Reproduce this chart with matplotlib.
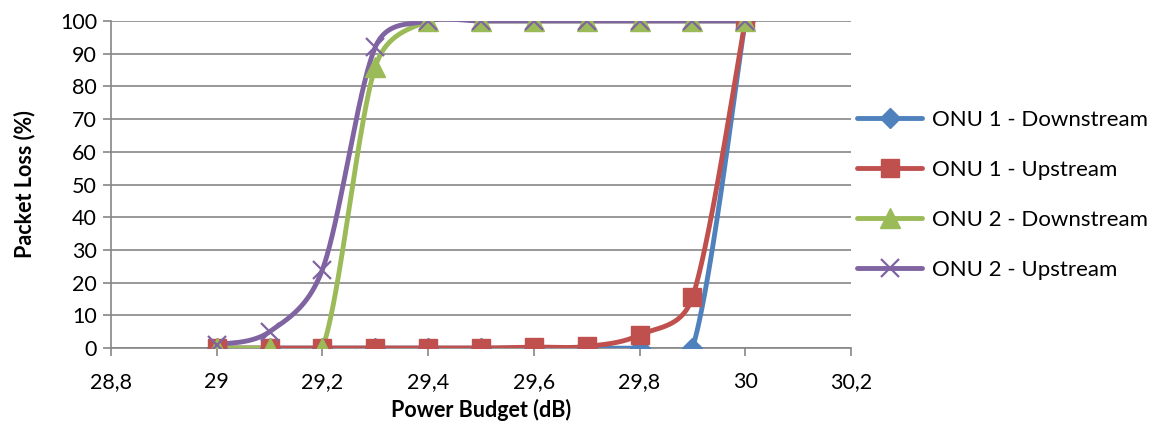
import numpy as np
import matplotlib
matplotlib.use("Agg")
import matplotlib.pyplot as plt
from matplotlib.ticker import FuncFormatter, MultipleLocator

plt.rcParams['font.family'] = ['Lato', 'DejaVu Sans']

power_budget = [29.0, 29.1, 29.2, 29.3, 29.4, 29.5, 29.6, 29.7, 29.8, 29.9, 30.0]
onu1_down = [0, 0, 0, 0, 0, 0, 0, 0, 0, 0, 100]
onu1_up = [0, 0, 0, 0, 0, 0, 0.3, 0.5, 4, 15.5, 100]
onu2_down = [0, 0, 0, 86, 100, 100, 100, 100, 100, 100, 100]
onu2_up = [1, 5, 24, 92, 100, 100, 100, 100, 100, 100, 100]

series = [
    ("ONU 1 - Downstream", onu1_down, "#4F81BD", "D", 10),
    ("ONU 1 - Upstream", onu1_up, "#C0504D", "s", 13),
    ("ONU 2 - Downstream", onu2_down, "#9BBB59", "^", 14),
    ("ONU 2 - Upstream", onu2_up, "#8064A2", "x", 13),
]

FIG_W, FIG_H = 11.72, 4.24
AX_RECT = [0.0947, 0.179, 0.6314, 0.7715]
XLIM = (28.8, 30.2)
YLIM = (0, 100)
LINE_W = 3.5


def smooth(x, y, sx, sy, n=60):
    """Bezier smoothing through every point, computed in display units.

    Control arms follow the neighbouring chord (length / 6), but are capped
    at half of the current segment so steep jumps do not overshoot.
    """
    P = np.column_stack([np.asarray(x, float) * sx, np.asarray(y, float) * sy])
    ext = np.vstack([P[0], P, P[-1]])
    t = np.linspace(0, 1, n)[:, None]
    out = []
    for i in range(1, len(ext) - 2):
        p0, p1, p2, p3 = ext[i - 1], ext[i], ext[i + 1], ext[i + 2]
        seg = np.linalg.norm(p2 - p1)
        a = (p2 - p0) / 6
        b = (p3 - p1) / 6
        la, lb = np.linalg.norm(a), np.linalg.norm(b)
        if la > seg / 2 and la > 0:
            a = a * (seg / 2) / la
        if lb > seg / 2 and lb > 0:
            b = b * (seg / 2) / lb
        c1 = p1 + a
        c2 = p2 - b
        bz = (1 - t) ** 3 * p1 + 3 * (1 - t) ** 2 * t * c1 + 3 * (1 - t) * t ** 2 * c2 + t ** 3 * p2
        out.append(bz)
    out = np.vstack(out)
    return out[:, 0] / sx, out[:, 1] / sy


fig = plt.figure(figsize=(FIG_W, FIG_H), dpi=100)
ax = fig.add_axes(AX_RECT)

px_per_x = AX_RECT[2] * FIG_W * 100 / (XLIM[1] - XLIM[0])
px_per_y = AX_RECT[3] * FIG_H * 100 / (YLIM[1] - YLIM[0])

handles = []
for label, vals, color, marker, ms in series:
    cx, cy = smooth(power_budget, vals, px_per_x, px_per_y)
    ax.plot(cx, cy, color=color, lw=LINE_W, solid_capstyle='round', zorder=3)
    mew = 1.6 if marker == "x" else 1
    ax.plot(power_budget, vals, ls='none', marker=marker, ms=ms, mew=mew,
            color=color, mec=color, zorder=4)
    h, = ax.plot([], [], color=color, lw=LINE_W, marker=marker, ms=ms,
                 mew=mew, solid_capstyle='round')
    handles.append((h, label))

ax.set_xlim(*XLIM)
ax.set_ylim(*YLIM)
ax.xaxis.set_major_locator(MultipleLocator(0.2))
ax.yaxis.set_major_locator(MultipleLocator(10))
ax.xaxis.set_major_formatter(
    FuncFormatter(lambda v, p: f"{v:.1f}".replace(".", ",").rstrip("0").rstrip(",")))
ax.yaxis.grid(True, color="#868686", lw=1.2)
ax.set_axisbelow(True)

for side in ("top", "right"):
    ax.spines[side].set_visible(False)
for side in ("left", "bottom"):
    ax.spines[side].set_color("#868686")
    ax.spines[side].set_linewidth(1.2)
ax.tick_params(axis='both', colors="#868686", labelcolor="black", labelsize=15.5,
               length=6, width=1.2, direction='out')
ax.tick_params(axis='x', pad=11)
ax.tick_params(axis='y', pad=4)

ax.set_xlabel("Power Budget (dB)", fontsize=15.5, fontweight='bold', labelpad=5)
ax.set_ylabel("Packet Loss (%)", fontsize=15.5, fontweight='bold', labelpad=18)

leg = fig.legend([h for h, _ in handles], [l for _, l in handles],
                 loc='center left', bbox_to_anchor=(0.724, 0.54), frameon=False,
                 fontsize=16, handlelength=2.9, labelspacing=1.35, handletextpad=0.45,
                 borderpad=0.2, borderaxespad=0.2)

fig.savefig("out.png", dpi=100)
